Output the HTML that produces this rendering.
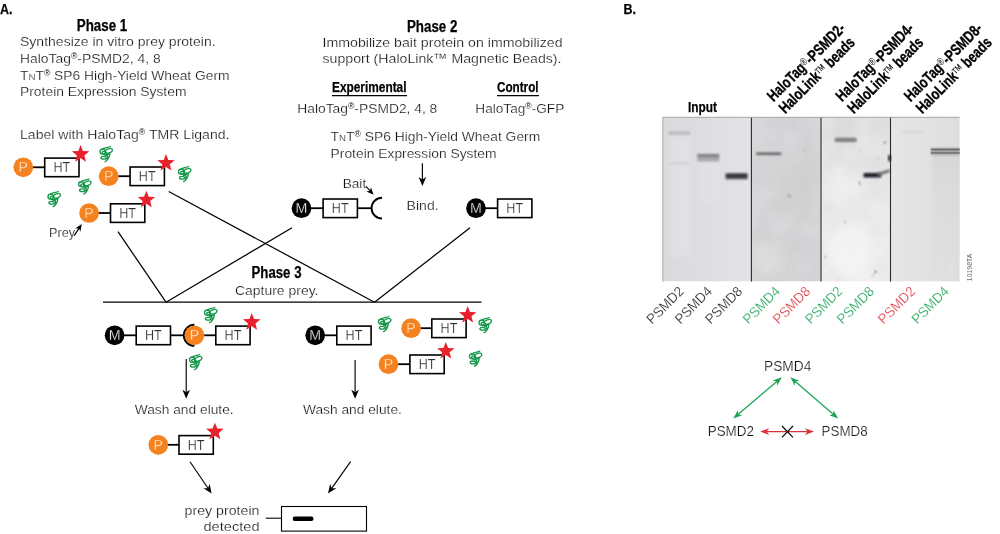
<!DOCTYPE html>
<html><head><meta charset="utf-8"><title>Figure</title>
<style>
html,body{margin:0;padding:0;background:#fff;}
body{width:1000px;height:534px;overflow:hidden;font-family:"Liberation Sans",sans-serif;}
svg{display:block;font-family:"Liberation Sans",sans-serif;}
</style></head><body>
<svg width="1000" height="534" viewBox="0 0 1000 534">
<defs>
<filter id="noise" x="0" y="0" width="100%" height="100%">
<feTurbulence type="fractalNoise" baseFrequency="0.035" numOctaves="3" seed="7" result="n"/>
<feColorMatrix type="matrix" values="0 0 0 0 0  0 0 0 0 0  0 0 0 0 0  0.5 0.5 0 0 -0.36"/>
</filter>
<filter id="blur1" x="-20%" y="-60%" width="140%" height="220%"><feGaussianBlur stdDeviation="0.85"/></filter>
<filter id="blur0" x="-10%" y="-60%" width="120%" height="220%"><feGaussianBlur stdDeviation="0.45"/></filter>
<filter id="blur2"><feGaussianBlur stdDeviation="2.5"/></filter>
<filter id="blur3"><feGaussianBlur stdDeviation="6"/></filter>
</defs>
<rect width="1000" height="534" fill="#fff"/>
<g opacity="0.999">

<text x="0" y="13.5" font-size="15.5" fill="#000" font-weight="bold" stroke="#000" stroke-width="0.25" textLength="12.5" lengthAdjust="spacingAndGlyphs" >A.</text>
<text x="102" y="30.8" font-size="15.6" fill="#000" text-anchor="middle" font-weight="bold" stroke="#000" stroke-width="0.25" textLength="50.5" lengthAdjust="spacingAndGlyphs" >Phase 1</text>
<text x="20" y="46.4" font-size="13.6" fill="#141414" stroke="#fff" stroke-width="0.22" textLength="195.6" lengthAdjust="spacingAndGlyphs" >Synthesize in vitro prey protein.</text>
<text x="20" y="63" font-size="13.6" fill="#141414" stroke="#fff" stroke-width="0.22" textLength="140.7" lengthAdjust="spacingAndGlyphs" >HaloTag<tspan font-size="8.5" dy="-4.2" stroke="none">®</tspan><tspan dy="4.2">-PSMD2, 4, 8</tspan></text>
<text x="20" y="79.7" font-size="13.6" fill="#141414" stroke="#fff" stroke-width="0.22" textLength="209.6" lengthAdjust="spacingAndGlyphs" >T<tspan font-size="9.5">N</tspan>T<tspan font-size="8.5" dy="-4.2" stroke="none">®</tspan><tspan dy="4.2"> SP6 High-Yield Wheat Germ</tspan></text>
<text x="20" y="96.3" font-size="13.6" fill="#141414" stroke="#fff" stroke-width="0.22" textLength="166.5" lengthAdjust="spacingAndGlyphs" >Protein Expression System</text>
<text x="20" y="138.7" font-size="13.6" fill="#141414" stroke="#fff" stroke-width="0.22" textLength="209.5" lengthAdjust="spacingAndGlyphs" >Label with HaloTag<tspan font-size="8.5" dy="-4.2" stroke="none">®</tspan><tspan dy="4.2"> TMR Ligand.</tspan></text>
<text x="432.2" y="31.5" font-size="15.6" fill="#000" text-anchor="middle" font-weight="bold" stroke="#000" stroke-width="0.25" textLength="50.5" lengthAdjust="spacingAndGlyphs" >Phase 2</text>
<text x="322.5" y="46.8" font-size="13.6" fill="#141414" stroke="#fff" stroke-width="0.22" textLength="240" lengthAdjust="spacingAndGlyphs" >Immobilize bait protein on immobilized</text>
<text x="322.5" y="63.2" font-size="13.6" fill="#141414" stroke="#fff" stroke-width="0.22" textLength="239" lengthAdjust="spacingAndGlyphs" >support (HaloLink™ Magnetic Beads).</text>
<text x="332" y="91.8" font-size="14" fill="#000" font-weight="bold" stroke="#000" stroke-width="0.25" textLength="74.5" lengthAdjust="spacingAndGlyphs" >Experimental</text>
<line x1="332" y1="95.6" x2="407" y2="95.6" stroke="#000" stroke-width="1.2"/>
<text x="497" y="91.8" font-size="14" fill="#000" font-weight="bold" stroke="#000" stroke-width="0.25" textLength="41.5" lengthAdjust="spacingAndGlyphs" >Control</text>
<line x1="497" y1="95.6" x2="539" y2="95.6" stroke="#000" stroke-width="1.2"/>
<text x="297.3" y="112.8" font-size="13.6" fill="#141414" stroke="#fff" stroke-width="0.22" textLength="140" lengthAdjust="spacingAndGlyphs" >HaloTag<tspan font-size="8.5" dy="-4.2" stroke="none">®</tspan><tspan dy="4.2">-PSMD2, 4, 8</tspan></text>
<text x="475.3" y="112.8" font-size="13.6" fill="#141414" stroke="#fff" stroke-width="0.22" textLength="89" lengthAdjust="spacingAndGlyphs" >HaloTag<tspan font-size="8.5" dy="-4.2" stroke="none">®</tspan><tspan dy="4.2">-GFP</tspan></text>
<text x="330.6" y="141.2" font-size="13.6" fill="#141414" stroke="#fff" stroke-width="0.22" textLength="209.6" lengthAdjust="spacingAndGlyphs" >T<tspan font-size="9.5">N</tspan>T<tspan font-size="8.5" dy="-4.2" stroke="none">®</tspan><tspan dy="4.2"> SP6 High-Yield Wheat Germ</tspan></text>
<text x="330.6" y="157.8" font-size="13.6" fill="#141414" stroke="#fff" stroke-width="0.22" textLength="166" lengthAdjust="spacingAndGlyphs" >Protein Expression System</text>
<line x1="422.40" y1="163.30" x2="422.40" y2="180.60" stroke="#000" stroke-width="1.15"/>
<polygon points="422.40,186.00 418.60,177.00 422.40,179.52 426.20,177.00" fill="#000"/>
<text x="342.7" y="187.8" font-size="13.6" fill="#141414" stroke="#fff" stroke-width="0.22" textLength="23.5" lengthAdjust="spacingAndGlyphs" >Bait</text>
<line x1="365.90" y1="186.30" x2="370.64" y2="191.47" stroke="#000" stroke-width="1.15"/>
<polygon points="373.60,194.70 366.38,191.41 370.05,190.83 370.95,187.22" fill="#000"/>
<text x="406.6" y="209.8" font-size="13.6" fill="#141414" stroke="#fff" stroke-width="0.22" textLength="32" lengthAdjust="spacingAndGlyphs" >Bind.</text>
<text x="276.5" y="278" font-size="15.6" fill="#000" text-anchor="middle" font-weight="bold" stroke="#000" stroke-width="0.25" textLength="50" lengthAdjust="spacingAndGlyphs" >Phase 3</text>
<text x="235" y="295" font-size="13.6" fill="#141414" stroke="#fff" stroke-width="0.22" textLength="83.5" lengthAdjust="spacingAndGlyphs" >Capture prey.</text>
<line x1="32.3" y1="167.3" x2="45.300000000000004" y2="167.3" stroke="#000" stroke-width="1.8"/>
<rect x="44.7" y="158.10000000000002" width="34.3" height="18.6" fill="#fff" stroke="#000" stroke-width="1.6"/>
<text x="61.85" y="172.35000000000002" font-size="14.2" fill="#2e2e2e" stroke="#fff" stroke-width="0.22" text-anchor="middle" textLength="16.8" lengthAdjust="spacingAndGlyphs" >HT</text>
<circle cx="23.3" cy="167.3" r="9.85" fill="#f58220"/>
<text x="23.3" y="172.25" font-size="14.2" fill="#ffe9cf" text-anchor="middle" stroke="#f58220" stroke-width="0.3">P</text>
<polygon points="80.60,145.00 82.93,151.00 89.35,151.36 84.36,155.42 86.01,161.64 80.60,158.16 75.19,161.64 76.84,155.42 71.85,151.36 78.27,151.00" fill="#e8212d"/>
<line x1="117.7" y1="176.2" x2="130.7" y2="176.2" stroke="#000" stroke-width="1.8"/>
<rect x="130.1" y="167.0" width="34.3" height="18.6" fill="#fff" stroke="#000" stroke-width="1.6"/>
<text x="147.25" y="181.25" font-size="14.2" fill="#2e2e2e" stroke="#fff" stroke-width="0.22" text-anchor="middle" textLength="16.8" lengthAdjust="spacingAndGlyphs" >HT</text>
<circle cx="108.7" cy="176.2" r="9.85" fill="#f58220"/>
<text x="108.7" y="181.14999999999998" font-size="14.2" fill="#ffe9cf" text-anchor="middle" stroke="#f58220" stroke-width="0.3">P</text>
<polygon points="166.00,153.90 168.33,159.90 174.75,160.26 169.76,164.32 171.41,170.54 166.00,167.06 160.59,170.54 162.24,164.32 157.25,160.26 163.67,159.90" fill="#e8212d"/>
<line x1="98.1" y1="213" x2="111.1" y2="213" stroke="#000" stroke-width="1.8"/>
<rect x="110.5" y="203.8" width="34.3" height="18.6" fill="#fff" stroke="#000" stroke-width="1.6"/>
<text x="127.65" y="218.05" font-size="14.2" fill="#2e2e2e" stroke="#fff" stroke-width="0.22" text-anchor="middle" textLength="16.8" lengthAdjust="spacingAndGlyphs" >HT</text>
<circle cx="89.1" cy="213" r="9.85" fill="#f58220"/>
<text x="89.1" y="217.95" font-size="14.2" fill="#ffe9cf" text-anchor="middle" stroke="#f58220" stroke-width="0.3">P</text>
<polygon points="146.40,190.70 148.73,196.70 155.15,197.06 150.16,201.12 151.81,207.34 146.40,203.86 140.99,207.34 142.64,201.12 137.65,197.06 144.07,196.70" fill="#e8212d"/>
<g transform="translate(106,154)" fill="none" stroke="#129748" stroke-width="1.3" stroke-linecap="round" stroke-linejoin="round"><ellipse cx="3.0" cy="-3.2" rx="3.6" ry="2.15" transform="rotate(-20 3 -3.2)"/><ellipse cx="-3.3" cy="-2.3" rx="2.7" ry="2.5"/><ellipse cx="-1.7" cy="-1.0" rx="2.2" ry="1.5" transform="rotate(30 -1.7 -1.0)"/><ellipse cx="-2.4" cy="3.8" rx="2.7" ry="1.4"/><path d="M -4.6,-4.4 C -1,-6.8 2,-6.3 4.3,-7.5 M 3.7,-0.9 C 4.1,2 2.8,4 1.2,6 C 0.6,6.9 0,7.3 -0.8,7.5 M 0.6,0.4 C 1.9,2.5 1.6,5 0.5,6.7 M -1,1.2 C 0.2,1.6 1.6,1 2.9,-0.5"/></g>
<g transform="translate(184.5,174)" fill="none" stroke="#129748" stroke-width="1.3" stroke-linecap="round" stroke-linejoin="round"><ellipse cx="3.0" cy="-3.2" rx="3.6" ry="2.15" transform="rotate(-20 3 -3.2)"/><ellipse cx="-3.3" cy="-2.3" rx="2.7" ry="2.5"/><ellipse cx="-1.7" cy="-1.0" rx="2.2" ry="1.5" transform="rotate(30 -1.7 -1.0)"/><ellipse cx="-2.4" cy="3.8" rx="2.7" ry="1.4"/><path d="M -4.6,-4.4 C -1,-6.8 2,-6.3 4.3,-7.5 M 3.7,-0.9 C 4.1,2 2.8,4 1.2,6 C 0.6,6.9 0,7.3 -0.8,7.5 M 0.6,0.4 C 1.9,2.5 1.6,5 0.5,6.7 M -1,1.2 C 0.2,1.6 1.6,1 2.9,-0.5"/></g>
<g transform="translate(84.6,186.5)" fill="none" stroke="#129748" stroke-width="1.3" stroke-linecap="round" stroke-linejoin="round"><ellipse cx="3.0" cy="-3.2" rx="3.6" ry="2.15" transform="rotate(-20 3 -3.2)"/><ellipse cx="-3.3" cy="-2.3" rx="2.7" ry="2.5"/><ellipse cx="-1.7" cy="-1.0" rx="2.2" ry="1.5" transform="rotate(30 -1.7 -1.0)"/><ellipse cx="-2.4" cy="3.8" rx="2.7" ry="1.4"/><path d="M -4.6,-4.4 C -1,-6.8 2,-6.3 4.3,-7.5 M 3.7,-0.9 C 4.1,2 2.8,4 1.2,6 C 0.6,6.9 0,7.3 -0.8,7.5 M 0.6,0.4 C 1.9,2.5 1.6,5 0.5,6.7 M -1,1.2 C 0.2,1.6 1.6,1 2.9,-0.5"/></g>
<g transform="translate(54,199)" fill="none" stroke="#129748" stroke-width="1.3" stroke-linecap="round" stroke-linejoin="round"><ellipse cx="3.0" cy="-3.2" rx="3.6" ry="2.15" transform="rotate(-20 3 -3.2)"/><ellipse cx="-3.3" cy="-2.3" rx="2.7" ry="2.5"/><ellipse cx="-1.7" cy="-1.0" rx="2.2" ry="1.5" transform="rotate(30 -1.7 -1.0)"/><ellipse cx="-2.4" cy="3.8" rx="2.7" ry="1.4"/><path d="M -4.6,-4.4 C -1,-6.8 2,-6.3 4.3,-7.5 M 3.7,-0.9 C 4.1,2 2.8,4 1.2,6 C 0.6,6.9 0,7.3 -0.8,7.5 M 0.6,0.4 C 1.9,2.5 1.6,5 0.5,6.7 M -1,1.2 C 0.2,1.6 1.6,1 2.9,-0.5"/></g>
<text x="49" y="236.8" font-size="13.6" fill="#141414" stroke="#fff" stroke-width="0.22" textLength="26" lengthAdjust="spacingAndGlyphs" >Prey</text>
<line x1="74.20" y1="235.60" x2="79.40" y2="227.66" stroke="#000" stroke-width="1.15"/>
<polygon points="81.80,224.00 80.39,231.81 78.92,228.40 75.21,228.41" fill="#000"/>
<line x1="310.5" y1="208.2" x2="323.5" y2="208.2" stroke="#000" stroke-width="1.8"/>
<rect x="323.1" y="199.0" width="34.3" height="18.6" fill="#fff" stroke="#000" stroke-width="1.6"/>
<text x="340.25" y="213.25" font-size="14.2" fill="#2e2e2e" stroke="#fff" stroke-width="0.22" text-anchor="middle" textLength="16.8" lengthAdjust="spacingAndGlyphs" >HT</text>
<circle cx="301.5" cy="208.2" r="9.85" fill="#000"/>
<text x="301.5" y="213.14999999999998" font-size="14.2" fill="#fff" text-anchor="middle" stroke="#000" stroke-width="0.3">M</text>
<line x1="357" y1="208.2" x2="371.6" y2="208.2" stroke="#000" stroke-width="1.8"/>
<path d="M 382,197.75 A 10.4 10.4 0 0 0 382,218.55" fill="none" stroke="#000" stroke-width="1.9"/>
<line x1="485" y1="208.2" x2="498" y2="208.2" stroke="#000" stroke-width="1.8"/>
<rect x="497.6" y="199.0" width="34.3" height="18.6" fill="#fff" stroke="#000" stroke-width="1.6"/>
<text x="514.75" y="213.25" font-size="14.2" fill="#2e2e2e" stroke="#fff" stroke-width="0.22" text-anchor="middle" textLength="16.8" lengthAdjust="spacingAndGlyphs" >HT</text>
<circle cx="476" cy="208.2" r="9.85" fill="#000"/>
<text x="476" y="213.14999999999998" font-size="14.2" fill="#fff" text-anchor="middle" stroke="#000" stroke-width="0.3">M</text>
<line x1="118" y1="231.7" x2="166" y2="302.2" stroke="#000" stroke-width="1.25"/>
<line x1="292" y1="227.8" x2="166" y2="302.2" stroke="#000" stroke-width="1.25"/>
<line x1="168.7" y1="191.5" x2="374.5" y2="302.2" stroke="#000" stroke-width="1.25"/>
<line x1="470" y1="227.8" x2="374.5" y2="302.2" stroke="#000" stroke-width="1.25"/>
<line x1="103" y1="302.2" x2="481.5" y2="302.2" stroke="#000" stroke-width="1.25"/>
<line x1="123.6" y1="335.3" x2="136.6" y2="335.3" stroke="#000" stroke-width="1.8"/>
<rect x="136.2" y="326.1" width="34.3" height="18.6" fill="#fff" stroke="#000" stroke-width="1.6"/>
<text x="153.35" y="340.35" font-size="14.2" fill="#2e2e2e" stroke="#fff" stroke-width="0.22" text-anchor="middle" textLength="16.8" lengthAdjust="spacingAndGlyphs" >HT</text>
<circle cx="114.6" cy="335.3" r="9.85" fill="#000"/>
<text x="114.6" y="340.25" font-size="14.2" fill="#fff" text-anchor="middle" stroke="#000" stroke-width="0.3">M</text>
<line x1="170" y1="335.3" x2="184" y2="335.3" stroke="#000" stroke-width="1.8"/>
<path d="M 194.4,324.7 A 10.6 10.6 0 0 0 194.4,345.9" fill="none" stroke="#000" stroke-width="1.9"/>
<line x1="203.4" y1="335.3" x2="216.4" y2="335.3" stroke="#000" stroke-width="1.8"/>
<rect x="215.8" y="326.1" width="34.3" height="18.6" fill="#fff" stroke="#000" stroke-width="1.6"/>
<text x="232.95000000000002" y="340.35" font-size="14.2" fill="#2e2e2e" stroke="#fff" stroke-width="0.22" text-anchor="middle" textLength="16.8" lengthAdjust="spacingAndGlyphs" >HT</text>
<circle cx="194.4" cy="335.3" r="9.85" fill="#f58220"/>
<text x="194.4" y="340.25" font-size="14.2" fill="#ffe9cf" text-anchor="middle" stroke="#f58220" stroke-width="0.3">P</text>
<polygon points="251.70,313.00 254.03,319.00 260.45,319.36 255.46,323.42 257.11,329.64 251.70,326.16 246.29,329.64 247.94,323.42 242.95,319.36 249.37,319.00" fill="#e8212d"/>
<g transform="translate(210.5,315)" fill="none" stroke="#129748" stroke-width="1.3" stroke-linecap="round" stroke-linejoin="round"><ellipse cx="3.0" cy="-3.2" rx="3.6" ry="2.15" transform="rotate(-20 3 -3.2)"/><ellipse cx="-3.3" cy="-2.3" rx="2.7" ry="2.5"/><ellipse cx="-1.7" cy="-1.0" rx="2.2" ry="1.5" transform="rotate(30 -1.7 -1.0)"/><ellipse cx="-2.4" cy="3.8" rx="2.7" ry="1.4"/><path d="M -4.6,-4.4 C -1,-6.8 2,-6.3 4.3,-7.5 M 3.7,-0.9 C 4.1,2 2.8,4 1.2,6 C 0.6,6.9 0,7.3 -0.8,7.5 M 0.6,0.4 C 1.9,2.5 1.6,5 0.5,6.7 M -1,1.2 C 0.2,1.6 1.6,1 2.9,-0.5"/></g>
<g transform="translate(195.5,362)" fill="none" stroke="#129748" stroke-width="1.3" stroke-linecap="round" stroke-linejoin="round"><ellipse cx="3.0" cy="-3.2" rx="3.6" ry="2.15" transform="rotate(-20 3 -3.2)"/><ellipse cx="-3.3" cy="-2.3" rx="2.7" ry="2.5"/><ellipse cx="-1.7" cy="-1.0" rx="2.2" ry="1.5" transform="rotate(30 -1.7 -1.0)"/><ellipse cx="-2.4" cy="3.8" rx="2.7" ry="1.4"/><path d="M -4.6,-4.4 C -1,-6.8 2,-6.3 4.3,-7.5 M 3.7,-0.9 C 4.1,2 2.8,4 1.2,6 C 0.6,6.9 0,7.3 -0.8,7.5 M 0.6,0.4 C 1.9,2.5 1.6,5 0.5,6.7 M -1,1.2 C 0.2,1.6 1.6,1 2.9,-0.5"/></g>
<line x1="186.20" y1="359.00" x2="186.20" y2="393.40" stroke="#000" stroke-width="1.15"/>
<polygon points="186.20,398.80 182.40,389.80 186.20,392.32 190.00,389.80" fill="#000"/>
<text x="134.7" y="414.2" font-size="13.6" fill="#141414" stroke="#fff" stroke-width="0.22" textLength="99" lengthAdjust="spacingAndGlyphs" >Wash and elute.</text>
<line x1="324.2" y1="335.3" x2="337.2" y2="335.3" stroke="#000" stroke-width="1.8"/>
<rect x="336.8" y="326.1" width="34.3" height="18.6" fill="#fff" stroke="#000" stroke-width="1.6"/>
<text x="353.95" y="340.35" font-size="14.2" fill="#2e2e2e" stroke="#fff" stroke-width="0.22" text-anchor="middle" textLength="16.8" lengthAdjust="spacingAndGlyphs" >HT</text>
<circle cx="315.2" cy="335.3" r="9.85" fill="#000"/>
<text x="315.2" y="340.25" font-size="14.2" fill="#fff" text-anchor="middle" stroke="#000" stroke-width="0.3">M</text>
<g transform="translate(384.5,324)" fill="none" stroke="#129748" stroke-width="1.3" stroke-linecap="round" stroke-linejoin="round"><ellipse cx="3.0" cy="-3.2" rx="3.6" ry="2.15" transform="rotate(-20 3 -3.2)"/><ellipse cx="-3.3" cy="-2.3" rx="2.7" ry="2.5"/><ellipse cx="-1.7" cy="-1.0" rx="2.2" ry="1.5" transform="rotate(30 -1.7 -1.0)"/><ellipse cx="-2.4" cy="3.8" rx="2.7" ry="1.4"/><path d="M -4.6,-4.4 C -1,-6.8 2,-6.3 4.3,-7.5 M 3.7,-0.9 C 4.1,2 2.8,4 1.2,6 C 0.6,6.9 0,7.3 -0.8,7.5 M 0.6,0.4 C 1.9,2.5 1.6,5 0.5,6.7 M -1,1.2 C 0.2,1.6 1.6,1 2.9,-0.5"/></g>
<line x1="420.1" y1="328.2" x2="432.40000000000003" y2="328.2" stroke="#000" stroke-width="1.8"/>
<rect x="431.8" y="319.0" width="34.3" height="18.6" fill="#fff" stroke="#000" stroke-width="1.6"/>
<text x="448.95" y="333.25" font-size="14.2" fill="#2e2e2e" stroke="#fff" stroke-width="0.22" text-anchor="middle" textLength="16.8" lengthAdjust="spacingAndGlyphs" >HT</text>
<circle cx="411.1" cy="328.2" r="9.85" fill="#f58220"/>
<text x="411.1" y="333.15" font-size="14.2" fill="#ffe9cf" text-anchor="middle" stroke="#f58220" stroke-width="0.3">P</text>
<polygon points="467.70,305.90 470.03,311.90 476.45,312.26 471.46,316.32 473.11,322.54 467.70,319.06 462.29,322.54 463.94,316.32 458.95,312.26 465.37,311.90" fill="#e8212d"/>
<g transform="translate(485,325)" fill="none" stroke="#129748" stroke-width="1.3" stroke-linecap="round" stroke-linejoin="round"><ellipse cx="3.0" cy="-3.2" rx="3.6" ry="2.15" transform="rotate(-20 3 -3.2)"/><ellipse cx="-3.3" cy="-2.3" rx="2.7" ry="2.5"/><ellipse cx="-1.7" cy="-1.0" rx="2.2" ry="1.5" transform="rotate(30 -1.7 -1.0)"/><ellipse cx="-2.4" cy="3.8" rx="2.7" ry="1.4"/><path d="M -4.6,-4.4 C -1,-6.8 2,-6.3 4.3,-7.5 M 3.7,-0.9 C 4.1,2 2.8,4 1.2,6 C 0.6,6.9 0,7.3 -0.8,7.5 M 0.6,0.4 C 1.9,2.5 1.6,5 0.5,6.7 M -1,1.2 C 0.2,1.6 1.6,1 2.9,-0.5"/></g>
<line x1="397.5" y1="364.2" x2="410.5" y2="364.2" stroke="#000" stroke-width="1.8"/>
<rect x="409.9" y="355.0" width="34.3" height="18.6" fill="#fff" stroke="#000" stroke-width="1.6"/>
<text x="427.04999999999995" y="369.25" font-size="14.2" fill="#2e2e2e" stroke="#fff" stroke-width="0.22" text-anchor="middle" textLength="16.8" lengthAdjust="spacingAndGlyphs" >HT</text>
<circle cx="388.5" cy="364.2" r="9.85" fill="#f58220"/>
<text x="388.5" y="369.15" font-size="14.2" fill="#ffe9cf" text-anchor="middle" stroke="#f58220" stroke-width="0.3">P</text>
<polygon points="445.80,341.90 448.13,347.90 454.55,348.26 449.56,352.32 451.21,358.54 445.80,355.06 440.39,358.54 442.04,352.32 437.05,348.26 443.47,347.90" fill="#e8212d"/>
<g transform="translate(475.4,358.6)" fill="none" stroke="#129748" stroke-width="1.3" stroke-linecap="round" stroke-linejoin="round"><ellipse cx="3.0" cy="-3.2" rx="3.6" ry="2.15" transform="rotate(-20 3 -3.2)"/><ellipse cx="-3.3" cy="-2.3" rx="2.7" ry="2.5"/><ellipse cx="-1.7" cy="-1.0" rx="2.2" ry="1.5" transform="rotate(30 -1.7 -1.0)"/><ellipse cx="-2.4" cy="3.8" rx="2.7" ry="1.4"/><path d="M -4.6,-4.4 C -1,-6.8 2,-6.3 4.3,-7.5 M 3.7,-0.9 C 4.1,2 2.8,4 1.2,6 C 0.6,6.9 0,7.3 -0.8,7.5 M 0.6,0.4 C 1.9,2.5 1.6,5 0.5,6.7 M -1,1.2 C 0.2,1.6 1.6,1 2.9,-0.5"/></g>
<line x1="355.10" y1="360.00" x2="355.10" y2="393.40" stroke="#000" stroke-width="1.15"/>
<polygon points="355.10,398.80 351.30,389.80 355.10,392.32 358.90,389.80" fill="#000"/>
<text x="302.9" y="414.2" font-size="13.6" fill="#141414" stroke="#fff" stroke-width="0.22" textLength="99" lengthAdjust="spacingAndGlyphs" >Wash and elute.</text>
<line x1="167.3" y1="444.8" x2="179.6" y2="444.8" stroke="#000" stroke-width="1.8"/>
<rect x="179.0" y="435.6" width="34.3" height="18.6" fill="#fff" stroke="#000" stroke-width="1.6"/>
<text x="196.15" y="449.85" font-size="14.2" fill="#2e2e2e" stroke="#fff" stroke-width="0.22" text-anchor="middle" textLength="16.8" lengthAdjust="spacingAndGlyphs" >HT</text>
<circle cx="158.3" cy="444.8" r="9.85" fill="#f58220"/>
<text x="158.3" y="449.75" font-size="14.2" fill="#ffe9cf" text-anchor="middle" stroke="#f58220" stroke-width="0.3">P</text>
<polygon points="214.90,422.50 217.23,428.50 223.65,428.86 218.66,432.92 220.31,439.14 214.90,435.66 209.49,439.14 211.14,432.92 206.15,428.86 212.57,428.50" fill="#e8212d"/>
<line x1="190.00" y1="461.70" x2="208.57" y2="489.03" stroke="#000" stroke-width="1.15"/>
<polygon points="211.60,493.50 203.40,488.19 207.96,488.14 209.69,483.92" fill="#000"/>
<line x1="350.60" y1="461.70" x2="331.13" y2="489.10" stroke="#000" stroke-width="1.15"/>
<polygon points="328.00,493.50 330.12,483.96 331.75,488.22 336.31,488.37" fill="#000"/>
<text x="259.5" y="514.5" font-size="13.6" fill="#141414" stroke="#fff" stroke-width="0.22" text-anchor="end" textLength="75" lengthAdjust="spacingAndGlyphs" >prey protein</text>
<text x="259.5" y="531.3" font-size="13.6" fill="#141414" stroke="#fff" stroke-width="0.22" text-anchor="end" textLength="56" lengthAdjust="spacingAndGlyphs" >detected</text>
<line x1="265.8" y1="518.2" x2="281.5" y2="518.2" stroke="#000" stroke-width="1.1"/>
<rect x="281.5" y="506.5" width="85" height="24.6" fill="#fff" stroke="#000" stroke-width="1.1"/>
<rect x="292.8" y="516.6" width="20.6" height="4.5" rx="1.8" fill="#000"/>
<text x="623.5" y="13.5" font-size="15.5" fill="#000" font-weight="bold" stroke="#000" stroke-width="0.25" textLength="12.5" lengthAdjust="spacingAndGlyphs" >B.</text>
<text x="702.5" y="112.3" font-size="14" fill="#000" text-anchor="middle" font-weight="bold" stroke="#000" stroke-width="0.25" textLength="29" lengthAdjust="spacingAndGlyphs" >Input</text>
<defs><clipPath id="gc"><rect x="662.8" y="117.3" width="297.0" height="164.3"/></clipPath>
<linearGradient id="p1" x1="0" x2="1" y1="0" y2="0"><stop offset="0" stop-color="#dadadd"/><stop offset="0.6" stop-color="#dfdfe2"/><stop offset="1" stop-color="#e3e3e5"/></linearGradient>
<linearGradient id="p3" x1="0" x2="0" y1="0" y2="1"><stop offset="0" stop-color="#e4e4e6"/><stop offset="0.5" stop-color="#ebebec"/><stop offset="1" stop-color="#f0f0f1"/></linearGradient>
<linearGradient id="p4" x1="0" x2="1" y1="0" y2="0"><stop offset="0" stop-color="#e6e6e8"/><stop offset="1" stop-color="#dededf"/></linearGradient>
<linearGradient id="sm" x1="0" x2="0" y1="0" y2="1"><stop offset="0" stop-color="#cfcfd2" stop-opacity="0.9"/><stop offset="0.35" stop-color="#d6d6d8" stop-opacity="0.6"/><stop offset="1" stop-color="#dcdcde" stop-opacity="0.25"/></linearGradient>
</defs>
<g clip-path="url(#gc)">
<rect x="662.8" y="117.3" width="88.60000000000002" height="164.3" fill="url(#p1)"/>
<rect x="751.4" y="117.3" width="69.60000000000002" height="164.3" fill="#d8d8da"/>
<rect x="821.0" y="117.3" width="69.5" height="164.3" fill="url(#p3)"/>
<rect x="890.5" y="117.3" width="69.29999999999995" height="164.3" fill="url(#p4)"/>
<rect x="751.4" y="117.3" width="139.10000000000002" height="164.3" filter="url(#noise)" opacity="0.10"/>
<rect x="669" y="136" width="21" height="120" fill="#e9e9eb" opacity="0.4" filter="url(#blur2)"/>
<rect x="698" y="163" width="21" height="40" fill="#e6e6e8" opacity="0.35" filter="url(#blur2)"/>
<ellipse cx="850" cy="250" rx="22" ry="26" fill="#f6f6f7" opacity="0.8" filter="url(#blur3)"/>
<ellipse cx="842" cy="190" rx="14" ry="20" fill="#f2f2f3" opacity="0.6" filter="url(#blur3)"/>
<ellipse cx="800" cy="190" rx="16" ry="30" fill="#cdcdcf" opacity="0.6" filter="url(#blur3)"/>
<ellipse cx="770" cy="260" rx="14" ry="18" fill="#e0e0e2" opacity="0.6" filter="url(#blur3)"/>
<rect x="668.5" y="131.3" width="21.8" height="3.6" fill="#bdbdc0" filter="url(#blur1)"/>
<rect x="668.5" y="162" width="21.8" height="2.4" fill="#d2d2d5" filter="url(#blur1)"/>
<rect x="697.4" y="154.2" width="21.8" height="7.2" fill="#a9a9ab" filter="url(#blur1)"/>
<rect x="697.6" y="154.4" width="21.4" height="2.6" fill="#808083" filter="url(#blur1)"/>
<rect x="725.6" y="173" width="22" height="6.4" fill="#6a6a6d" filter="url(#blur1)"/>
<rect x="726.4" y="174.6" width="20.6" height="2.8" fill="#2c2c2f" filter="url(#blur1)"/>
<rect x="756.2" y="152.5" width="25" height="2.5" fill="#606063" filter="url(#blur1)"/>
<circle cx="789.5" cy="196.3" r="1.1" fill="#7a7a7c" filter="url(#blur1)"/><circle cx="787.3" cy="194.5" r="0.8" fill="#8a8a8c" filter="url(#blur1)"/>
<circle cx="805" cy="150.5" r="0.9" fill="#aaa" filter="url(#blur1)"/>
<rect x="835" y="137.6" width="21.4" height="4" fill="#8e8e91" filter="url(#blur1)"/>
<rect x="835" y="139.6" width="21.4" height="1.6" fill="#707073" filter="url(#blur1)"/>
<rect x="863.6" y="173" width="17.5" height="4.4" fill="#1e1e21" filter="url(#blur1)"/>
<path d="M 878,174.5 L 890,170.5" stroke="#77777a" stroke-width="3" filter="url(#blur1)"/>
<ellipse cx="889.6" cy="158" rx="1.6" ry="3.6" fill="#2a2a2c" filter="url(#blur1)"/>
<circle cx="884.6" cy="142.6" r="1.1" fill="#66666a" filter="url(#blur1)"/>
<path d="M 858.5,181.5 L 860.6,185" stroke="#88888b" stroke-width="1.3" filter="url(#blur1)"/>
<circle cx="860" cy="150" r="0.8" fill="#aaa" filter="url(#blur1)"/><circle cx="878" cy="158.5" r="0.8" fill="#999" filter="url(#blur1)"/><circle cx="845" cy="222" r="0.9" fill="#999" filter="url(#blur1)"/><circle cx="825.5" cy="257" r="1" fill="#888" filter="url(#blur1)"/>
<circle cx="875.5" cy="272" r="1.2" fill="#7a7a7c" filter="url(#blur1)"/><circle cx="873" cy="275.5" r="0.9" fill="#909092" filter="url(#blur1)"/>
<rect x="931.5" y="153" width="30" height="125" fill="url(#sm)" opacity="0.6" filter="url(#blur1)"/>
<rect x="930.8" y="148" width="29.2" height="7" fill="#a6a6a9" filter="url(#blur1)"/>
<rect x="931" y="148.6" width="29" height="1.7" fill="#6c6c6f" filter="url(#blur0)"/>
<rect x="931" y="152.2" width="29" height="1.5" fill="#707073" filter="url(#blur0)"/>
<rect x="902.5" y="131" width="20.5" height="2.4" fill="#d6d6d8" filter="url(#blur1)"/>
</g>
<line x1="751.4" y1="117.3" x2="751.4" y2="281.6" stroke="#2a2a2a" stroke-width="1.1"/>
<line x1="821.0" y1="117.3" x2="821.0" y2="281.6" stroke="#2a2a2a" stroke-width="1.1"/>
<line x1="890.5" y1="117.3" x2="890.5" y2="281.6" stroke="#2a2a2a" stroke-width="1.1"/>
<path d="M 662.8,281.6 L 662.8,117.3 L 959.8,117.3" fill="none" stroke="#9c9c9e" stroke-width="0.9"/>
<path d="M 951,278 C 950.5,262 951.5,256 956,255" fill="none" stroke="#e9e9eb" stroke-width="1.5" opacity="0.6" filter="url(#blur1)"/>
<text transform="translate(972.2,281.2) rotate(-90)" font-size="7.2" fill="#222" stroke="#fff" stroke-width="0.15" textLength="27.6" lengthAdjust="spacingAndGlyphs">10198TA</text>
<text transform="translate(773.6,102.3) rotate(-45)" font-size="15.8" font-weight="bold" fill="#000" stroke="#000" stroke-width="0.35" textLength="103" lengthAdjust="spacingAndGlyphs">HaloTag<tspan font-size="10.5" font-weight="normal" stroke-width="0" dy="-4">®</tspan><tspan dy="4">-PSMD2-</tspan></text>
<text transform="translate(785.2,114.2) rotate(-45)" font-size="15.8" font-weight="bold" fill="#000" stroke="#000" stroke-width="0.35" textLength="100" lengthAdjust="spacingAndGlyphs">HaloLink<tspan font-size="8.5" font-weight="normal" stroke-width="0.15" dy="-4.6">TM</tspan><tspan dy="4.6"> beads</tspan></text>
<text transform="translate(842.1,102.3) rotate(-45)" font-size="15.8" font-weight="bold" fill="#000" stroke="#000" stroke-width="0.35" textLength="103" lengthAdjust="spacingAndGlyphs">HaloTag<tspan font-size="10.5" font-weight="normal" stroke-width="0" dy="-4">®</tspan><tspan dy="4">-PSMD4-</tspan></text>
<text transform="translate(853.7,114.2) rotate(-45)" font-size="15.8" font-weight="bold" fill="#000" stroke="#000" stroke-width="0.35" textLength="100" lengthAdjust="spacingAndGlyphs">HaloLink<tspan font-size="8.5" font-weight="normal" stroke-width="0.15" dy="-4.6">TM</tspan><tspan dy="4.6"> beads</tspan></text>
<text transform="translate(910.6,102.3) rotate(-45)" font-size="15.8" font-weight="bold" fill="#000" stroke="#000" stroke-width="0.35" textLength="103" lengthAdjust="spacingAndGlyphs">HaloTag<tspan font-size="10.5" font-weight="normal" stroke-width="0" dy="-4">®</tspan><tspan dy="4">-PSMD8-</tspan></text>
<text transform="translate(922.2,114.2) rotate(-45)" font-size="15.8" font-weight="bold" fill="#000" stroke="#000" stroke-width="0.35" textLength="100" lengthAdjust="spacingAndGlyphs">HaloLink<tspan font-size="8.5" font-weight="normal" stroke-width="0.15" dy="-4.6">TM</tspan><tspan dy="4.6"> beads</tspan></text>
<text transform="translate(652.0999999999999,324.8) rotate(-45)" font-size="14" fill="#222" stroke="#fff" stroke-width="0.22" textLength="46" lengthAdjust="spacingAndGlyphs">PSMD2</text>
<text transform="translate(680.4,324.8) rotate(-45)" font-size="14" fill="#222" stroke="#fff" stroke-width="0.22" textLength="46" lengthAdjust="spacingAndGlyphs">PSMD4</text>
<text transform="translate(710.8,324.8) rotate(-45)" font-size="14" fill="#222" stroke="#fff" stroke-width="0.22" textLength="46" lengthAdjust="spacingAndGlyphs">PSMD8</text>
<text transform="translate(748.4,324.8) rotate(-45)" font-size="14" fill="#1aa355" stroke="#fff" stroke-width="0.22" textLength="46" lengthAdjust="spacingAndGlyphs">PSMD4</text>
<text transform="translate(778.5999999999999,324.8) rotate(-45)" font-size="14" fill="#e0333c" stroke="#fff" stroke-width="0.22" textLength="46" lengthAdjust="spacingAndGlyphs">PSMD8</text>
<text transform="translate(810.8,324.8) rotate(-45)" font-size="14" fill="#1aa355" stroke="#fff" stroke-width="0.22" textLength="46" lengthAdjust="spacingAndGlyphs">PSMD2</text>
<text transform="translate(842.5,324.8) rotate(-45)" font-size="14" fill="#1aa355" stroke="#fff" stroke-width="0.22" textLength="46" lengthAdjust="spacingAndGlyphs">PSMD8</text>
<text transform="translate(883.5999999999999,324.8) rotate(-45)" font-size="14" fill="#e0333c" stroke="#fff" stroke-width="0.22" textLength="46" lengthAdjust="spacingAndGlyphs">PSMD2</text>
<text transform="translate(917.1999999999999,324.8) rotate(-45)" font-size="14" fill="#1aa355" stroke="#fff" stroke-width="0.22" textLength="46" lengthAdjust="spacingAndGlyphs">PSMD4</text>
<text x="764" y="370.6" font-size="14" fill="#141414" stroke="#fff" stroke-width="0.22" textLength="47.3" lengthAdjust="spacingAndGlyphs" >PSMD4</text>
<text x="707.7" y="436" font-size="14" fill="#141414" stroke="#fff" stroke-width="0.22" textLength="46.2" lengthAdjust="spacingAndGlyphs" >PSMD2</text>
<text x="821.5" y="436" font-size="14" fill="#141414" stroke="#fff" stroke-width="0.22" textLength="46.2" lengthAdjust="spacingAndGlyphs" >PSMD8</text>
<polygon points="781.80,377.30 777.07,385.64 776.86,381.49 772.80,380.60" fill="#1aa355"/>
<line x1="777.68" y1="380.79" x2="737.32" y2="415.01" stroke="#1aa355" stroke-width="1.25"/>
<polygon points="733.20,418.50 737.93,410.16 738.14,414.31 742.20,415.20" fill="#1aa355"/>
<polygon points="790.30,377.30 799.28,380.67 795.21,381.53 794.97,385.67" fill="#1aa355"/>
<line x1="794.39" y1="380.82" x2="834.11" y2="414.98" stroke="#1aa355" stroke-width="1.25"/>
<polygon points="838.20,418.50 829.22,415.13 833.29,414.27 833.53,410.13" fill="#1aa355"/>
<polygon points="760.20,431.60 769.20,428.30 766.68,431.60 769.20,434.90" fill="#d9303a"/>
<line x1="765.60" y1="431.60" x2="808.60" y2="431.60" stroke="#d9303a" stroke-width="1.25"/>
<polygon points="814.00,431.60 805.00,434.90 807.52,431.60 805.00,428.30" fill="#d9303a"/>
<line x1="782" y1="426" x2="793" y2="437.4" stroke="#000" stroke-width="1.15"/>
<line x1="793" y1="426" x2="782" y2="437.4" stroke="#000" stroke-width="1.15"/>
</g></svg></body></html>
